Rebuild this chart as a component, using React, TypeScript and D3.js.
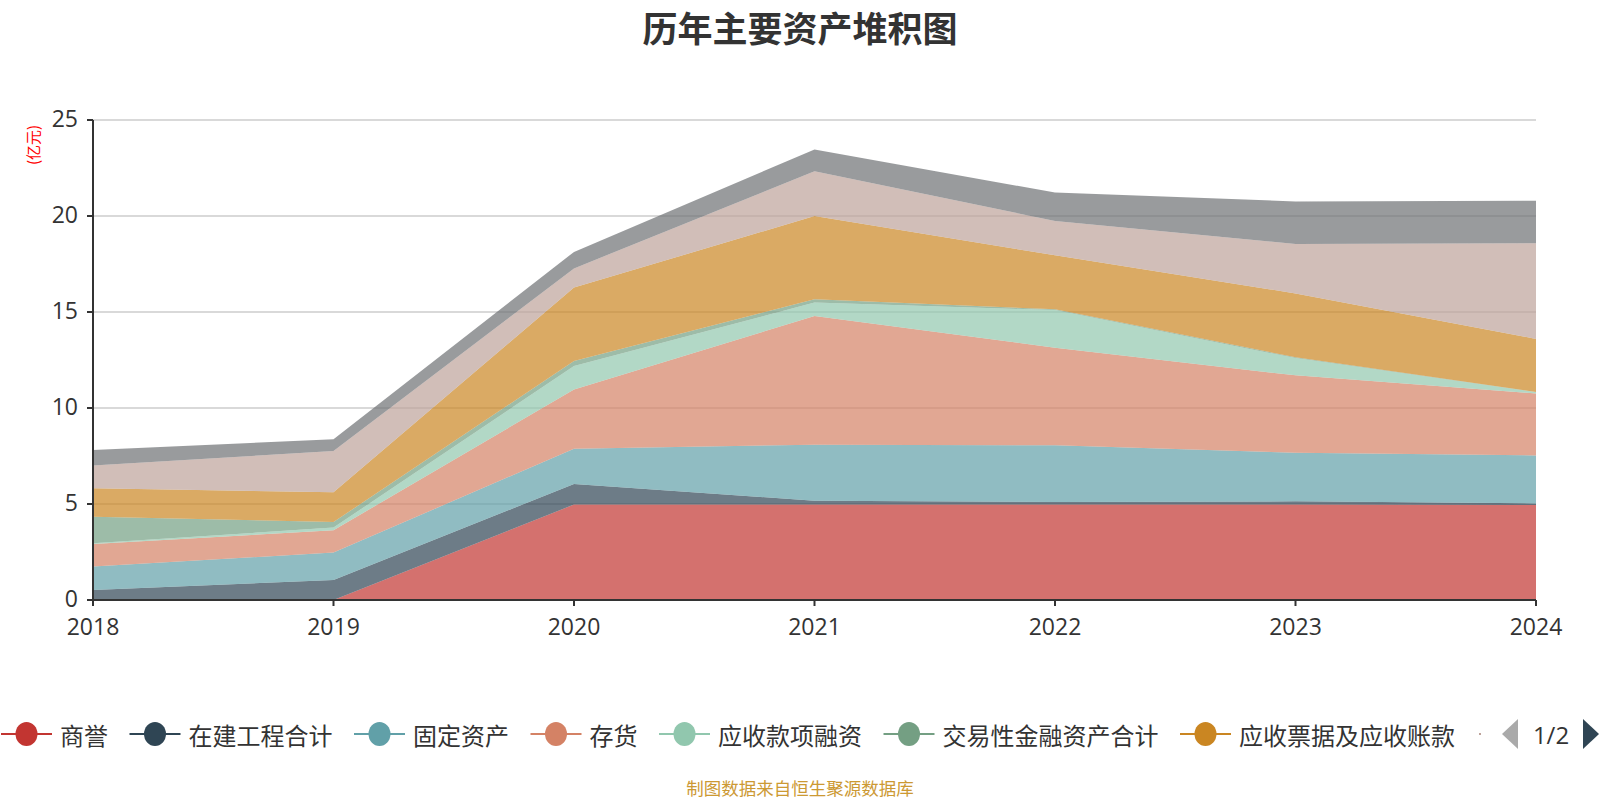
import React from 'react';
import * as d3 from 'd3';

const years = ['2018', '2019', '2020', '2021', '2022', '2023', '2024'];

// 单位：亿元（堆积顺序自下而上）
const goodwill = [0, 0, 4.97, 4.97, 4.97, 4.97, 4.95];
const constructionInProgress = [0.52, 1.04, 1.07, 0.2, 0.13, 0.17, 0.08];
const fixedAssets = [1.22, 1.43, 1.84, 2.92, 2.96, 2.53, 2.5];
const inventory = [1.18, 1.16, 3.09, 6.7, 5.08, 4.03, 3.23];
const receivablesFinancing = [0.03, 0.14, 1.22, 0.7, 1.96, 0.9, 0.07];
const tradingFinancialAssets = [1.39, 0.29, 0.26, 0.17, 0.04, 0.04, 0];
const notesAndAccountsReceivable = [1.48, 1.55, 3.82, 4.34, 2.81, 3.33, 2.77];
const monetaryFunds = [1.19, 2.15, 1.0, 2.33, 1.79, 2.57, 4.98];
const longTermEquity = [0.8, 0.61, 0.86, 1.14, 1.48, 2.22, 2.22];

const seriesNames = [
    '商誉', '在建工程合计', '固定资产', '存货', '应收款项融资',
    '交易性金融资产合计', '应收票据及应收账款', '货币资金', '长期股权投资',
];
const seriesValues = [
    goodwill, constructionInProgress, fixedAssets, inventory, receivablesFinancing,
    tradingFinancialAssets, notesAndAccountsReceivable, monetaryFunds, longTermEquity,
];
const colors = ['#c23531', '#2f4554', '#61a0a8', '#d48265', '#91c7ae', '#749f83', '#ca8622', '#bda29a', '#6e7074'];
const yTicks = [0, 5, 10, 15, 20, 25];

const legendCount = 7; // first page of the legend

const App: React.FC = () => {
    const margin = { top: 120, right: 64, bottom: 200, left: 93 };
    const width = 1600;
    const height = 800;

    const x = d3.scalePoint<string>().domain(years).range([margin.left, width - margin.right]);
    const y = d3.scaleLinear().domain([0, 25]).range([height - margin.bottom, margin.top]);

    const rows = years.map((yr, i) => {
        const row: Record<string, number | string> = { year: yr };
        seriesNames.forEach((n, k) => { row[n] = seriesValues[k][i]; });
        return row;
    });
    const stacked = d3.stack<Record<string, number | string>>().keys(seriesNames)(rows);

    const area = d3.area<d3.SeriesPoint<Record<string, number | string>>>()
        .x(d => x(d.data.year as string) as number)
        .y0(d => y(d[0]))
        .y1(d => y(d[1]));

    const font = "'Open Sans', 'Noto Sans CJK SC', sans-serif";
    const cjk = "'Noto Sans CJK SC', sans-serif";
    const x0 = x.range()[0];
    const x1 = x.range()[1];
    const yBase = y(0);

    // legend layout
    const legendFont = 24;
    let cursor = 1;
    const legendItems = seriesNames.slice(0, legendCount).map((name, i) => {
        const item = { name, color: colors[i], x: cursor };
        cursor += 51 + 8 + name.length * legendFont + 21.5;
        return item;
    });
    const legendY = 734;

    return (
        <svg width={width} height={height} style={{ position: 'absolute', left: 0, top: 0, background: '#fff' }}>
            <text x={800} y={26} textAnchor="middle" dominantBaseline="central"
                fontSize={35} fontWeight="bold" fill="#333" fontFamily={cjk}>历年主要资产堆积图</text>

            {/* grid */}
            {yTicks.filter(t => t > 0).map(t => (
                <line key={t} x1={x0} x2={x1} y1={y(t)} y2={y(t)} stroke="#ccc" strokeWidth={1.5} />
            ))}

            {/* areas */}
            {stacked.map((s, i) => (
                <path key={s.key} d={area(s) || ''} fill={colors[i]} fillOpacity={0.7} stroke="none" />
            ))}

            {/* y axis */}
            <line x1={x0} x2={x0} y1={y(25)} y2={yBase} stroke="#333" strokeWidth={2} />
            {yTicks.map(t => (
                <g key={t}>
                    <line x1={x0 - 6} x2={x0} y1={y(t)} y2={y(t)} stroke="#333" strokeWidth={2} />
                    <text x={x0 - 15} y={y(t) - 2} textAnchor="end" dominantBaseline="central"
                        fontSize={23} fill="#333" fontFamily={font}>{t}</text>
                </g>
            ))}
            <text transform={`translate(32,145) rotate(-90)`} textAnchor="middle" dominantBaseline="central"
                fontSize={15} fill="#ff0000" fontFamily={cjk}>(亿元)</text>

            {/* x axis */}
            <line x1={x0} x2={x1} y1={yBase} y2={yBase} stroke="#333" strokeWidth={2} />
            {years.map(yr => (
                <g key={yr}>
                    <line x1={x(yr)} x2={x(yr)} y1={yBase} y2={yBase + 6} stroke="#333" strokeWidth={2} />
                    <text x={x(yr)} y={yBase + 26} textAnchor="middle" dominantBaseline="central"
                        fontSize={23} fill="#333" fontFamily={font}>{yr}</text>
                </g>
            ))}

            {/* legend */}
            {legendItems.map(it => (
                <g key={it.name}>
                    <line x1={it.x} x2={it.x + 51} y1={legendY} y2={legendY} stroke={it.color} strokeWidth={2} />
                    <ellipse cx={it.x + 25.5} cy={legendY} rx={11} ry={12} fill={it.color} />
                    <text x={it.x + 59} y={legendY} dominantBaseline="central"
                        fontSize={legendFont} fill="#333" fontFamily={cjk}>{it.name}</text>
                </g>
            ))}
            <line x1={1479} x2={1481} y1={legendY} y2={legendY} stroke={colors[7]} strokeWidth={2} />
            <path d={`M1518,${legendY - 15} L1518,${legendY + 15} L1502,${legendY} Z`} fill="#aaa" />
            <text x={1551} y={legendY} textAnchor="middle" dominantBaseline="central"
                fontSize={24} fill="#333" fontFamily={font}>1/2</text>
            <path d={`M1583,${legendY - 15} L1583,${legendY + 15} L1599,${legendY} Z`} fill="#2f4554" />

            <text x={800} y={787} textAnchor="middle" dominantBaseline="central"
                fontSize={17.5} fill="#cc9933" fontFamily={cjk}>制图数据来自恒生聚源数据库</text>
        </svg>
    );
};

export default App;
